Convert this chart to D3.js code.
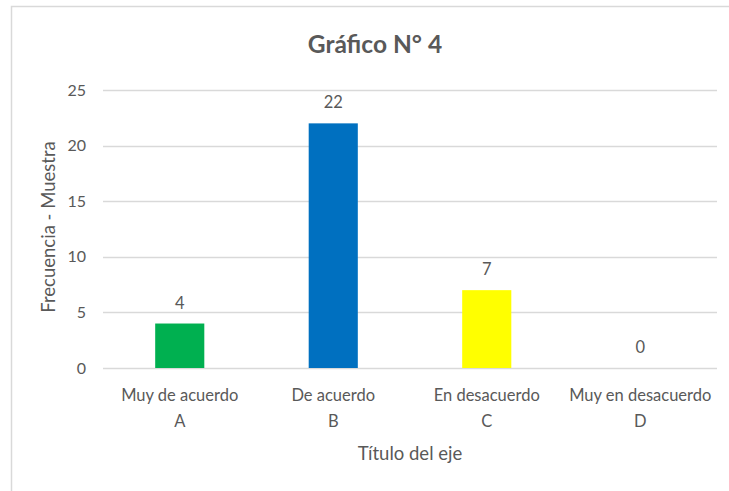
<!DOCTYPE html>
<html>
<head>
<meta charset="utf-8">
<script src="https://cdn.jsdelivr.net/npm/d3@7"></script>
<style>
  body { margin: 0; background: #fff; }
  text { font-family: Lato, "Open Sans", sans-serif; fill: #595959; }
</style>
</head>
<body>
<div id="chart"></div>
<script>
// data
var categories = ["Muy de acuerdo", "De acuerdo", "En desacuerdo", "Muy en desacuerdo"];
var letters = ["A", "B", "C", "D"];
var values = [4, 22, 7, 0];
var barColors = ["#00B050", "#0070C0", "#FFFF00", "#00B050"];
var yTicks = [0, 5, 10, 15, 20, 25];

var width = 729, height = 491;

var svg = d3.select("#chart")
    .append("svg")
    .attr("width", width)
    .attr("height", height);

// chart border (runs off the right and bottom of the picture)
svg.append("rect")
    .attr("x", 11.5)
    .attr("y", 6.5)
    .attr("width", 740)
    .attr("height", 500)
    .attr("fill", "#fff")
    .attr("stroke", "#d9d9d9")
    .attr("stroke-width", 1.5);

var plot = { left: 103, right: 717, top: 90, bottom: 368 };

// scales
var xScale = d3.scaleBand()
    .domain(categories)
    .range([plot.left, plot.right])
    .paddingInner(0.68)
    .paddingOuter(0.34);

var yScale = d3.scaleLinear()
    .domain([0, 25])
    .range([plot.bottom, plot.top]);

// gridlines
svg.append("g")
    .selectAll("line")
    .data(yTicks)
    .enter()
    .append("line")
    .attr("x1", plot.left)
    .attr("x2", plot.right)
    .attr("y1", d => Math.round(yScale(d)) + 0.5)
    .attr("y2", d => Math.round(yScale(d)) + 0.5)
    .attr("stroke", "#d9d9d9")
    .attr("stroke-width", 1.3);

// y axis labels
var yAxis = svg.append("g")
    .attr("transform", "translate(" + (plot.left - 7) + ",0)")
    .call(d3.axisLeft(yScale).tickValues(yTicks).tickSize(0).tickPadding(10));
yAxis.select(".domain").remove();
yAxis.selectAll("text")
    .style("font-size", "16px")
    .style("font-family", "Lato, 'Open Sans', sans-serif")
    .attr("fill", "#595959");

// bars
svg.selectAll(".bar")
    .data(values)
    .enter()
    .append("rect")
    .attr("class", "bar")
    .attr("x", (d, i) => xScale(categories[i]))
    .attr("y", d => yScale(d))
    .attr("width", xScale.bandwidth())
    .attr("height", d => yScale(0) - yScale(d))
    .attr("fill", (d, i) => barColors[i]);

// value labels
svg.selectAll(".val")
    .data(values)
    .enter()
    .append("text")
    .attr("class", "val")
    .attr("x", (d, i) => xScale(categories[i]) + xScale.bandwidth() / 2)
    .attr("y", d => yScale(d) - 15)
    .attr("text-anchor", "middle")
    .style("font-size", "16.5px")
    .text(d => d);

// category labels (two lines)
var cat = svg.selectAll(".cat")
    .data(categories)
    .enter()
    .append("text")
    .attr("class", "cat")
    .attr("text-anchor", "middle")
    .style("font-size", "16.5px");
cat.append("tspan")
    .attr("x", d => xScale(d) + xScale.bandwidth() / 2)
    .attr("y", 401)
    .text(d => d);
cat.append("tspan")
    .attr("x", d => xScale(d) + xScale.bandwidth() / 2)
    .attr("y", 427)
    .text((d, i) => letters[i]);

// x axis title
svg.append("text")
    .attr("x", (plot.left + plot.right) / 2)
    .attr("y", 460)
    .attr("text-anchor", "middle")
    .style("font-size", "18.5px")
    .text("Título del eje");

// y axis title
svg.append("text")
    .attr("transform", "translate(55," + 227 + ") rotate(-90)")
    .attr("text-anchor", "middle")
    .style("font-size", "18.5px")
    .text("Frecuencia - Muestra");

// chart title
svg.append("text")
    .attr("x", 375)
    .attr("y", 53)
    .attr("text-anchor", "middle")
    .style("font-size", "24.5px")
    .style("font-weight", "bold")
    .text("Gráfico N° 4");
</script>
</body>
</html>
